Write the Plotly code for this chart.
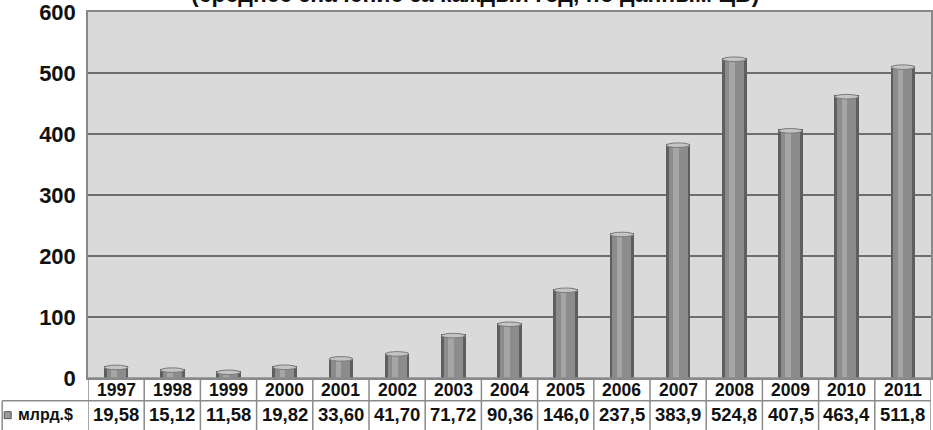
import plotly.graph_objects as go

years = ["1997", "1998", "1999", "2000", "2001", "2002", "2003", "2004",
         "2005", "2006", "2007", "2008", "2009", "2010", "2011"]
values = [19.58, 15.12, 11.58, 19.82, 33.60, 41.70, 71.72, 90.36,
          146.0, 237.5, 383.9, 524.8, 407.5, 463.4, 511.8]
value_labels = ["19,58", "15,12", "11,58", "19,82", "33,60", "41,70", "71,72", "90,36",
                "146,0", "237,5", "383,9", "524,8", "407,5", "463,4", "511,8"]
y_ticks = [0, 100, 200, 300, 400, 500, 600]
series_name = "млрд.$"
title_text = "(среднее значение за каждый год, по данным ЦБ)"

W, H = 933, 430
ML, MR, MT, MB = 88, 0, 9, 52
plot_h = H - MT - MB
plot_w = W - ML - MR


def py2paper(py):
    return (H - MB - py) / plot_h


def px2paper(px):
    return (px - ML) / plot_w


fig = go.Figure()

# cylinder-like bars: dark rim, body, highlight
fig.add_trace(go.Bar(x=years, y=values, width=0.44, marker=dict(color="#5e5e5e", line=dict(width=0)),
                     name=series_name, showlegend=False, hoverinfo="skip"))
fig.add_trace(go.Bar(x=years, y=values, width=0.34, marker=dict(color="#8c8c8c", line=dict(width=0)),
                     showlegend=False, hoverinfo="skip"))
fig.add_trace(go.Bar(x=years, y=values, width=0.10, offset=-0.09,
                     marker=dict(color="#a6a6a6", line=dict(width=0)),
                     showlegend=False, hoverinfo="skip"))

shapes = []
# top caps
for i, v in enumerate(values):
    shapes.append(dict(type="circle", xref="x", yref="y", x0=i - 0.21, x1=i + 0.21,
                       y0=v - 6, y1=v + 1.5, fillcolor="#c4c4c4",
                       line=dict(color="#7a7a7a", width=1), layer="above"))

line_c = "#8a8a8a"
y_mid = py2paper(401)
y_bot = py2paper(434)
# horizontal table lines
shapes.append(dict(type="line", xref="paper", yref="paper", x0=0, x1=1, y0=0, y1=0,
                   line=dict(color=line_c, width=1.5)))
shapes.append(dict(type="line", xref="paper", yref="paper", x0=px2paper(2), x1=1, y0=y_mid, y1=y_mid,
                   line=dict(color=line_c, width=1.5)))
shapes.append(dict(type="line", xref="paper", yref="paper", x0=px2paper(2), x1=px2paper(2),
                   y0=y_mid, y1=y_bot, line=dict(color=line_c, width=1.5)))
# vertical table lines at category boundaries
for k in range(len(years) + 1):
    shapes.append(dict(type="line", xref="x", yref="paper", x0=k - 0.5, x1=k - 0.5,
                       y0=0, y1=y_bot, line=dict(color=line_c, width=1.5)))
# legend key
shapes.append(dict(type="rect", xref="paper", yref="paper", x0=px2paper(4), x1=px2paper(11),
                   y0=py2paper(419), y1=py2paper(412), fillcolor="#9a9a9a",
                   line=dict(color="#555555", width=1)))

annotations = []
fnt = "Liberation Sans, Arial, sans-serif"
for i, (yr, lab) in enumerate(zip(years, value_labels)):
    annotations.append(dict(x=i, y=py2paper(390), xref="x", yref="paper", text="<b>%s</b>" % yr,
                            showarrow=False, font=dict(family=fnt, size=17.5, color="#111"),
                            xanchor="center", yanchor="middle"))
    annotations.append(dict(x=i, y=py2paper(415), xref="x", yref="paper", text="<b>%s</b>" % lab,
                            showarrow=False, font=dict(family=fnt, size=18.5, color="#111"),
                            xanchor="center", yanchor="middle"))
annotations.append(dict(x=px2paper(16), y=py2paper(415), xref="paper", yref="paper",
                        text="<b>%s</b>" % series_name, showarrow=False,
                        font=dict(family=fnt, size=16, color="#111"), xanchor="left", yanchor="middle"))
annotations.append(dict(x=px2paper(476), y=1, xref="paper", yref="paper", text="<b>%s</b>" % title_text,
                        showarrow=False, font=dict(family=fnt, size=23, color="#111"),
                        xanchor="center", yanchor="bottom", yshift=3))

fig.update_layout(
    width=W, height=H,
    margin=dict(l=ML, r=MR, t=MT, b=MB, pad=0),
    paper_bgcolor="white",
    plot_bgcolor="#dadada",
    barmode="overlay",
    bargap=0,
    showlegend=False,
    shapes=shapes,
    annotations=annotations,
    xaxis=dict(type="category", range=[-0.5, len(years) - 0.5], showticklabels=False,
               showgrid=False, zeroline=False, showline=True, linecolor="#888", linewidth=1.5,
               mirror=True, ticks=""),
    yaxis=dict(range=[0, 600], tickvals=y_ticks, ticktext=["<b>%d</b>" % t for t in y_ticks],
               tickfont=dict(family=fnt, size=22, color="#111"),
               showgrid=True, gridcolor="#6e6e6e", gridwidth=1.5, zeroline=False,
               showline=True, linecolor="#888", linewidth=1.5, mirror=True, ticks="",
               ticklabelstandoff=6, ticklabeloverflow="allow"),
)

fig.write_html("out.html", config={"displayModeBar": False},
               post_script="document.body.style.margin='0';document.body.style.overflow='hidden';")
